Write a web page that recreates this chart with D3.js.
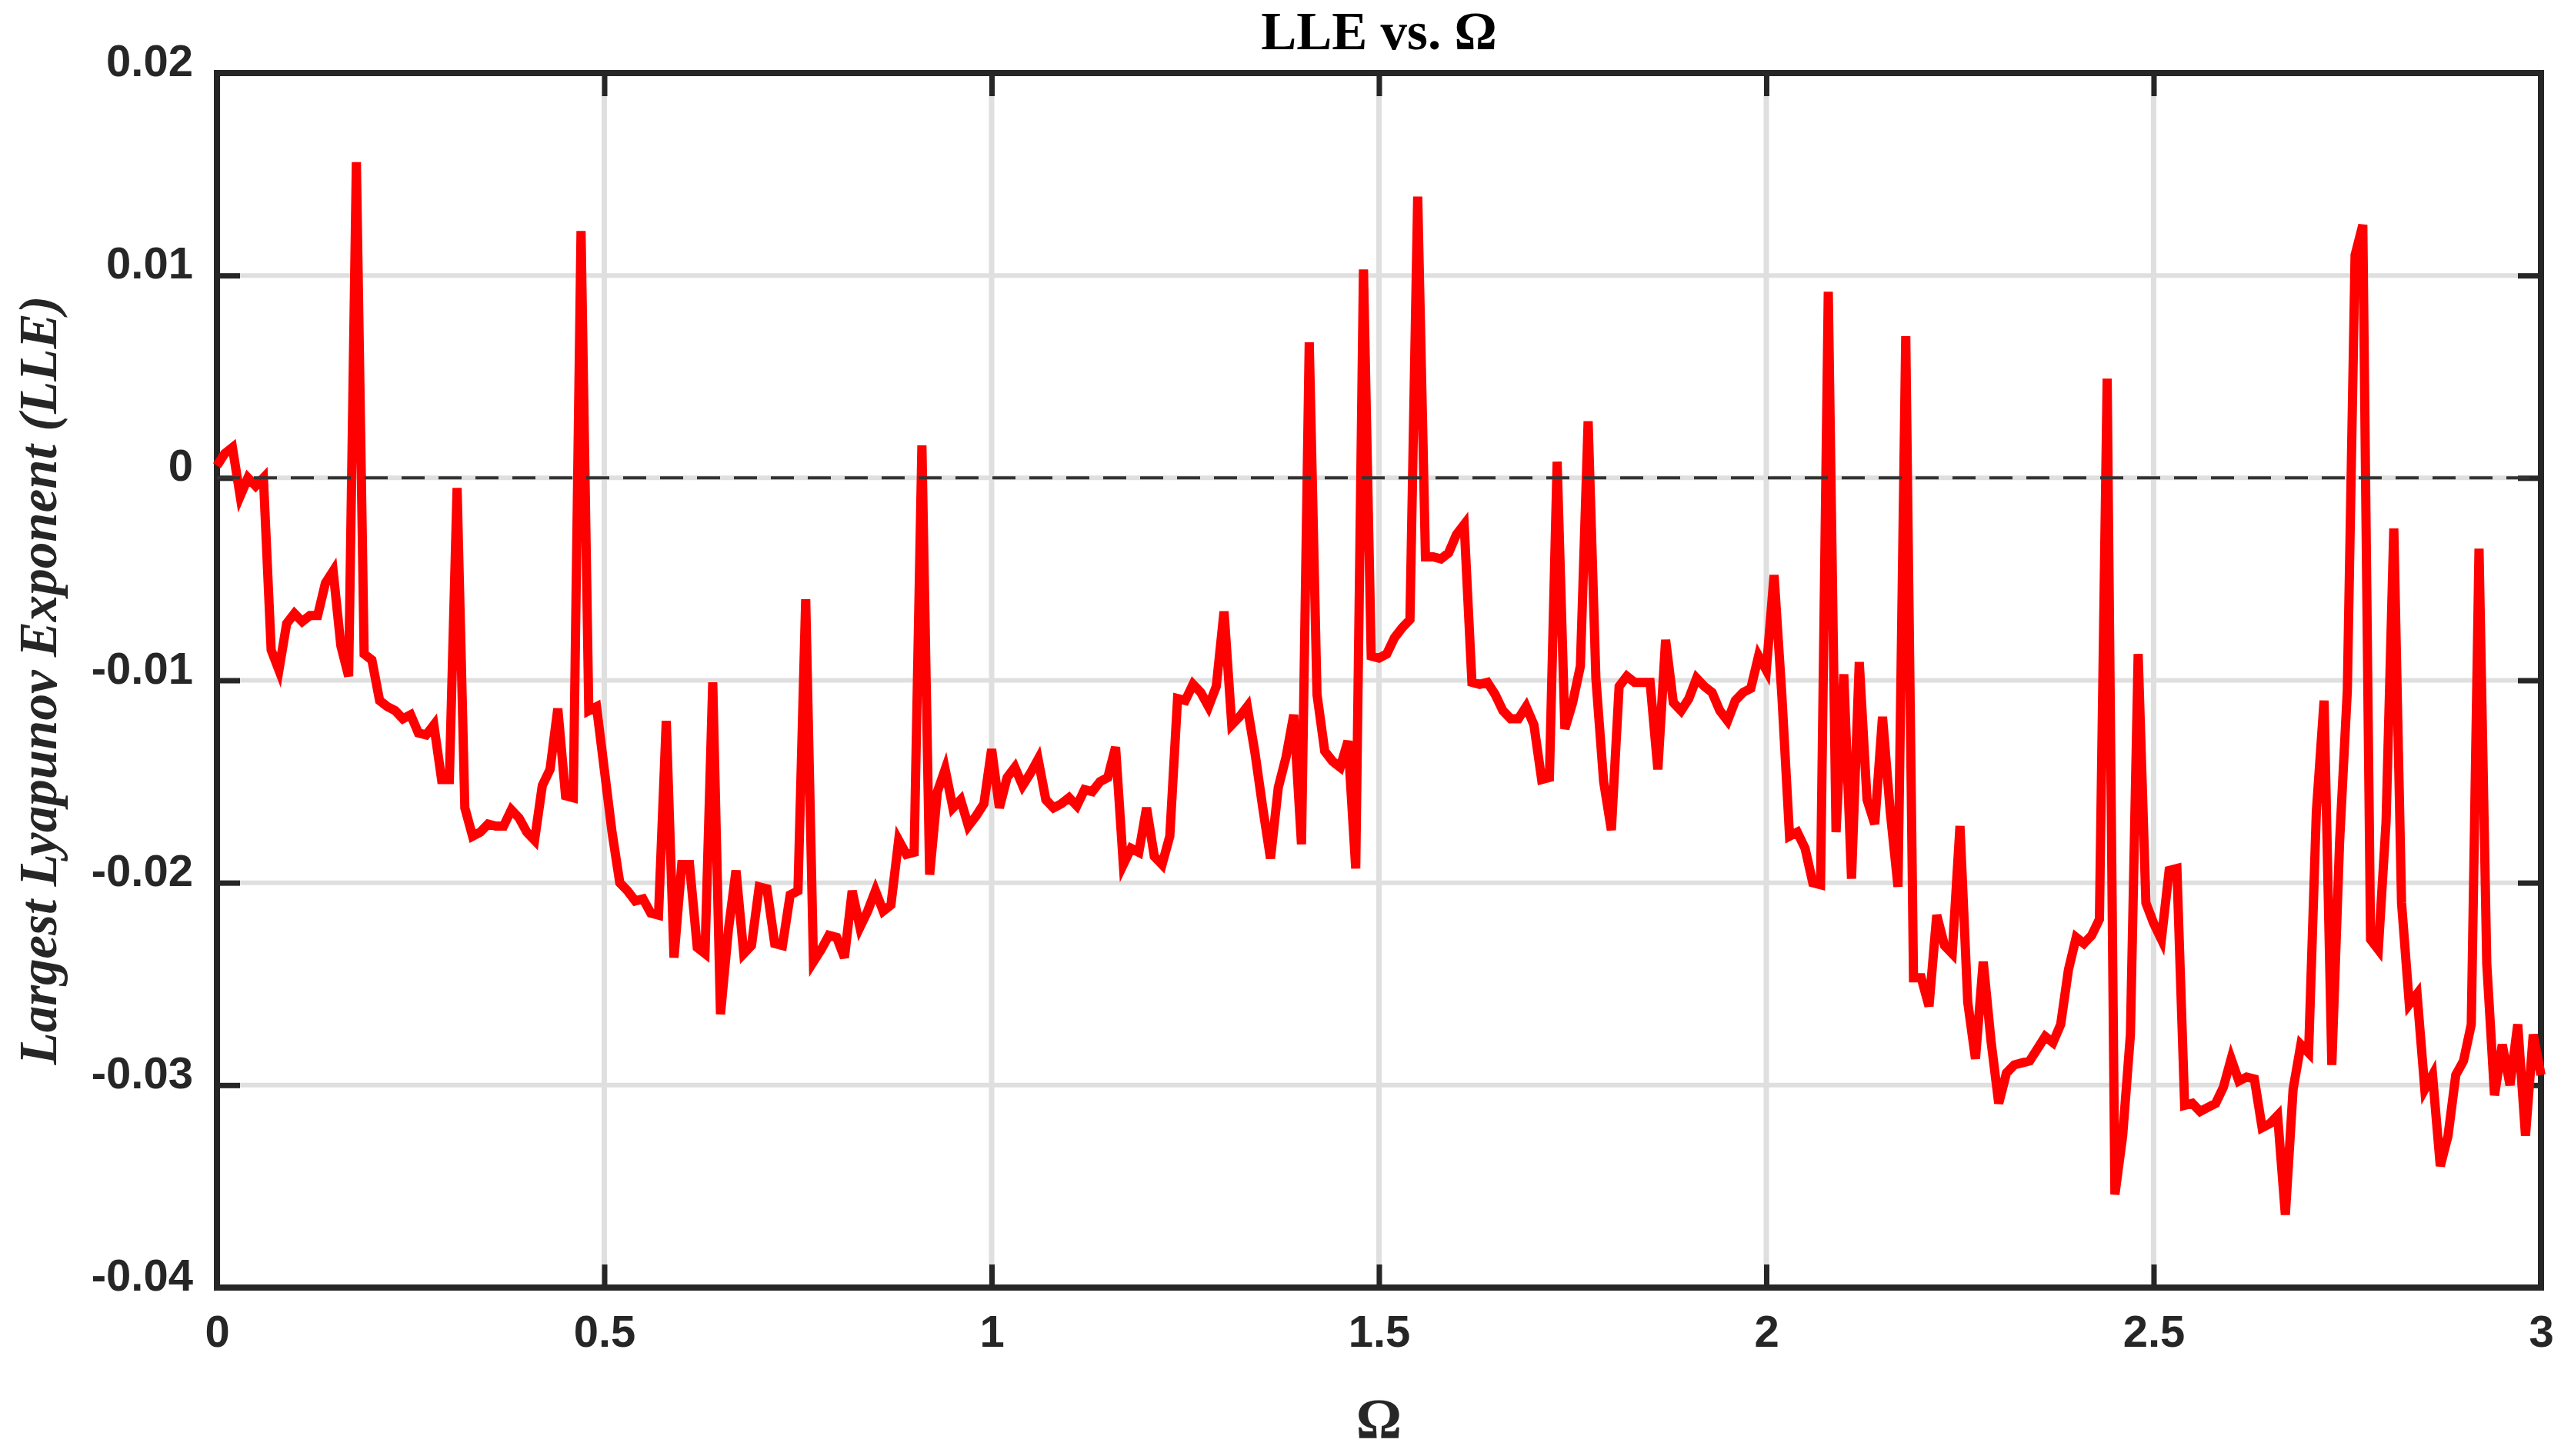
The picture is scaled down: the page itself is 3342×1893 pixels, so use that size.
<!DOCTYPE html>
<html><head><meta charset="utf-8">
<script src="https://cdn.jsdelivr.net/npm/d3@7"></script>
<style>html,body{margin:0;padding:0;background:#fff;} svg{display:block;}</style>
</head><body>
<svg id="chart" width="3342" height="1893"></svg>
<script>
// ---- data ----
const omegaStart = 0;
const omegaStep = 0.01;
const lle = [
 0.0006, 0.0012, 0.0015,-0.0009, 0.0000,-0.0004, 0.0000,-0.0085,-0.0095,-0.0072,
-0.0067,-0.0071,-0.0068,-0.0068,-0.0052,-0.0046,-0.0083,-0.0098, 0.0156,-0.0087,
-0.0090,-0.0110,-0.0113,-0.0115,-0.0119,-0.0117,-0.0126,-0.0127,-0.0122,-0.0149,
-0.0149,-0.0005,-0.0163,-0.0177,-0.0175,-0.0171,-0.0172,-0.0172,-0.0164,-0.0168,
-0.0175,-0.0179,-0.0152,-0.0144,-0.0114,-0.0157,-0.0158, 0.0122,-0.0115,-0.0113,
-0.0144,-0.0175,-0.0200,-0.0204,-0.0209,-0.0208,-0.0215,-0.0216,-0.0120,-0.0237,
-0.0191,-0.0191,-0.0232,-0.0235,-0.0101,-0.0265,-0.0224,-0.0194,-0.0235,-0.0231,
-0.0202,-0.0203,-0.0230,-0.0231,-0.0206,-0.0204,-0.0060,-0.0239,-0.0233,-0.0226,
-0.0227,-0.0237,-0.0204,-0.0222,-0.0214,-0.0204,-0.0214,-0.0211,-0.0179,-0.0186,
-0.0185, 0.0016,-0.0196,-0.0155,-0.0144,-0.0163,-0.0159,-0.0172,-0.0167,-0.0161,
-0.0134,-0.0163,-0.0148,-0.0143,-0.0152,-0.0146,-0.0139,-0.0159,-0.0163,-0.0161,
-0.0158,-0.0162,-0.0154,-0.0155,-0.0150,-0.0148,-0.0133,-0.0191,-0.0183,-0.0185,
-0.0163,-0.0187,-0.0191,-0.0177,-0.0109,-0.0110,-0.0102,-0.0106,-0.0113,-0.0103,
-0.0066,-0.0122,-0.0118,-0.0113,-0.0136,-0.0163,-0.0188,-0.0153,-0.0138,-0.0117,
-0.0181, 0.0067,-0.0107,-0.0135,-0.0140,-0.0143,-0.0130,-0.0193, 0.0103,-0.0088,
-0.0089,-0.0087,-0.0079,-0.0074,-0.0070, 0.0139,-0.0039,-0.0039,-0.0040,-0.0037,
-0.0028,-0.0023,-0.0101,-0.0102,-0.0101,-0.0107,-0.0115,-0.0119,-0.0119,-0.0113,
-0.0122,-0.0149,-0.0148, 0.0008,-0.0124,-0.0111,-0.0093, 0.0028,-0.0099,-0.0150,
-0.0174,-0.0103,-0.0098,-0.0101,-0.0101,-0.0101,-0.0144,-0.0080,-0.0111,-0.0115,
-0.0109,-0.0099,-0.0103,-0.0106,-0.0115,-0.0120,-0.0110,-0.0106,-0.0104,-0.0088,
-0.0095,-0.0048,-0.0107,-0.0177,-0.0175,-0.0183,-0.0200,-0.0201, 0.0092,-0.0175,
-0.0097,-0.0198,-0.0091,-0.0159,-0.0171,-0.0118,-0.0165,-0.0202, 0.0070,-0.0247,
-0.0247,-0.0261,-0.0216,-0.0231,-0.0235,-0.0172,-0.0259,-0.0287,-0.0239,-0.0278,
-0.0309,-0.0294,-0.0290,-0.0289,-0.0288,-0.0282,-0.0276,-0.0279,-0.0270,-0.0243,
-0.0227,-0.0230,-0.0226,-0.0218, 0.0049,-0.0354,-0.0325,-0.0275,-0.0087,-0.0210,
-0.0220,-0.0228,-0.0194,-0.0193,-0.0310,-0.0309,-0.0313,-0.0311,-0.0309,-0.0301,
-0.0287,-0.0298,-0.0296,-0.0297,-0.0321,-0.0319,-0.0315,-0.0364,-0.0302,-0.0280,
-0.0284,-0.0165,-0.0110,-0.0290,-0.0180,-0.0105, 0.0110, 0.0125,-0.0228,-0.0233,
-0.0170,-0.0025,-0.0210,-0.0260,-0.0255,-0.0302,-0.0295,-0.0340,-0.0325,-0.0295,
-0.0288,-0.0270,-0.0035,-0.0240,-0.0305,-0.0280,-0.0300,-0.0270,-0.0325,-0.0275,
-0.0295
];
const xTicks = [0, 0.5, 1, 1.5, 2, 2.5, 3];
const xTickLabels = ["0", "0.5", "1", "1.5", "2", "2.5", "3"];
const yTicks = [0.02, 0.01, 0, -0.01, -0.02, -0.03, -0.04];
const yTickLabels = ["0.02", "0.01", "0", "-0.01", "-0.02", "-0.03", "-0.04"];
const titleText = "LLE vs. \u03A9";
const xLabelText = "\u03A9";
const yLabelText = "Largest Lyapunov Exponent (LLE)";

const omega = lle.map((_, i) => omegaStart + i * omegaStep);
const series = lle.map((v, i) => ({ x: omega[i], y: v }));

// ---- layout ----
const L = 282, R = 3303, T = 95, B = 1674;
const axisColor = "#262626";
const svg = d3.select("#chart");
svg.append("rect").attr("width", 3342).attr("height", 1893).attr("fill", "#fff");

const x = d3.scaleLinear().domain([0, 3]).range([L, R]);
const y = d3.scaleLinear().domain([-0.04, 0.02]).range([B, T]);

// grid
const grid = svg.append("g");
grid.selectAll("line.v").data(xTicks.slice(1, -1)).join("line")
  .attr("x1", d => x(d)).attr("x2", d => x(d)).attr("y1", T).attr("y2", B)
  .attr("stroke", "#dfdfdf").attr("stroke-width", 7);
grid.selectAll("line.h").data(yTicks.slice(1, -1)).join("line")
  .attr("y1", d => y(d)).attr("y2", d => y(d)).attr("x1", L).attr("x2", R)
  .attr("stroke", "#dfdfdf").attr("stroke-width", 6);

// axes (inward ticks on all four sides)
const tickLen = 30;
function styleAxis(g) {
  g.select(".domain").remove();
  g.selectAll(".tick line").attr("stroke", axisColor).attr("stroke-width", 7);
  g.selectAll(".tick text").attr("fill", axisColor)
    .style("font-family", "'Liberation Sans', Arial, sans-serif")
    .style("font-weight", "bold").style("font-size", "58px");
}
const gl = svg.append("g").attr("transform", `translate(${L},0)`)
  .call(d3.axisLeft(y).tickValues(yTicks).tickSize(-tickLen).tickPadding(31)
    .tickFormat((d, i) => yTickLabels[i]));
styleAxis(gl);
gl.selectAll(".tick text").attr("dy", null).attr("y", -17)
  .attr("dominant-baseline", "central");
const gr = svg.append("g").attr("transform", `translate(${R},0)`)
  .call(d3.axisRight(y).tickValues(yTicks).tickSize(-tickLen).tickFormat(""));
styleAxis(gr);
const gb = svg.append("g").attr("transform", `translate(0,${B})`)
  .call(d3.axisBottom(x).tickValues(xTicks).tickSize(-tickLen).tickPadding(0)
    .tickFormat((d, i) => xTickLabels[i]));
styleAxis(gb);
gb.selectAll(".tick text").attr("dy", null).attr("y", 77);
const gt = svg.append("g").attr("transform", `translate(0,${T})`)
  .call(d3.axisTop(x).tickValues(xTicks).tickSize(-tickLen).tickFormat(""));
styleAxis(gt);

// frame
svg.append("rect").attr("x", L).attr("y", T).attr("width", R - L).attr("height", B - T)
  .attr("fill", "none").attr("stroke", axisColor).attr("stroke-width", 8);

// data line
const line = d3.line().x(d => x(d.x)).y(d => y(d.y));
svg.append("path").datum(series).attr("d", line)
  .attr("fill", "none").attr("stroke", "#ff0000").attr("stroke-width", 12)
  .attr("stroke-linejoin", "miter");

// zero reference line
svg.append("line").attr("x1", L).attr("x2", R).attr("y1", y(0)).attr("y2", y(0))
  .attr("stroke", "#333").attr("stroke-width", 4).attr("stroke-dasharray", "30,18");

// title and labels
svg.append("text").attr("x", (L + R) / 2).attr("y", 64).attr("text-anchor", "middle")
  .style("font-family", "'Liberation Serif', 'Times New Roman', serif")
  .style("font-weight", "bold").style("font-size", "69px").attr("fill", "#000")
  .text(titleText);
svg.append("text").attr("x", (L + R) / 2).attr("y", 1870).attr("text-anchor", "middle")
  .style("font-family", "'Liberation Serif', 'Times New Roman', serif")
  .style("font-weight", "bold").style("font-size", "74px").attr("fill", axisColor)
  .text(xLabelText);
svg.append("text").attr("transform", `translate(73,${(T + B) / 2}) rotate(-90)`)
  .attr("text-anchor", "middle")
  .style("font-family", "'Liberation Serif', 'Times New Roman', serif")
  .style("font-weight", "bold").style("font-style", "italic").style("font-size", "69px")
  .attr("fill", axisColor).text(yLabelText);
</script>
</body></html>
